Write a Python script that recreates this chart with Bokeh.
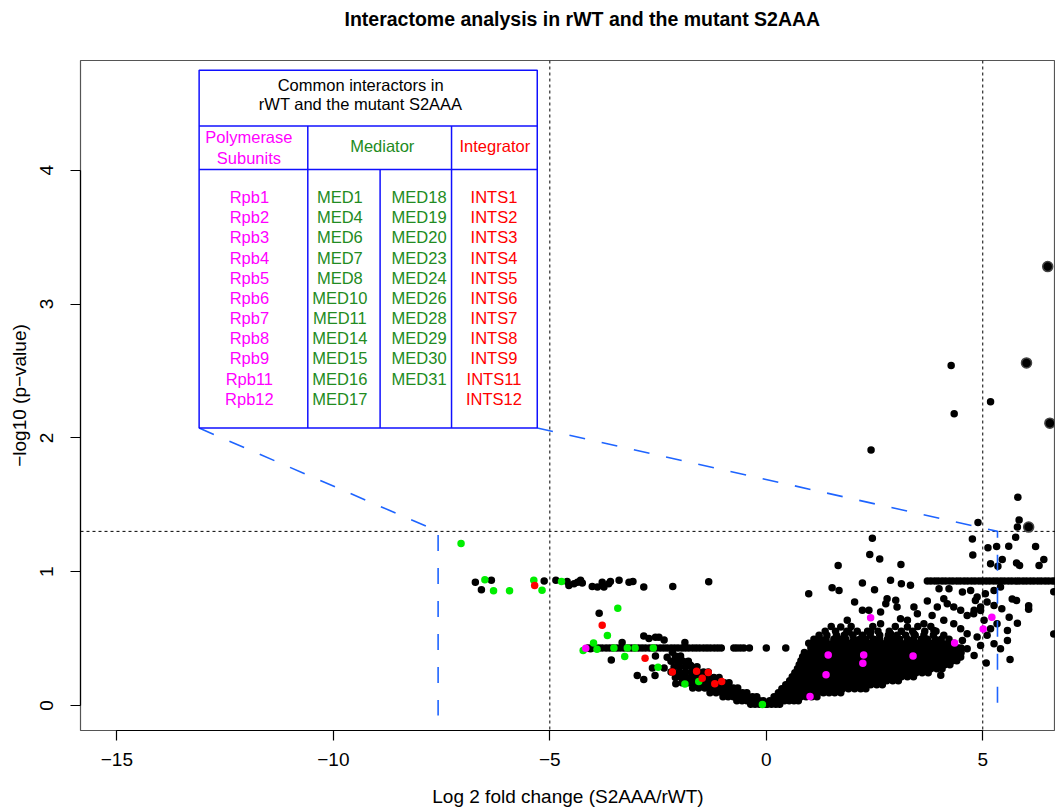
from bokeh.plotting import figure
from bokeh.models import FixedTicker, Range1d, Span, CustomJSTickFormatter, Title
from bokeh.core.properties import value
from bokeh.embed import file_html
from bokeh.resources import INLINE

FONT = "Liberation Sans"

# ---------------------------------------------------------------- data
x_ticks = [-15, -10, -5, 0, 5]
y_ticks = [0, 1, 2, 3, 4]
fc_cutoff = [-5, 5]
p_cutoff = 1.301  # -log10(0.05)

# proteins far from the origin
outlier_x = [4.27, 5.18, 4.34, 2.42, 5.81, 5.84, 5.80, 4.89, 4.76, 2.45, 2.39, 2.62, 1.66,
             3.11, 4.77, 5.12, 5.32, 5.60, 5.76, 6.22, 5.18, 5.35, 5.45, 5.78, 5.85, 6.30,
             6.41, 5.78, 5.68, 6.06, 6.06, 5.44, 5.61, 5.80, 5.57, 5.57, 5.63, 5.08, 6.64,
             6.64, 4.83, 4.95, 4.79, 0.98, 1.52, 1.68, 2.22, 2.50, 2.87, 3.12, 3.33, 2.04,
             3.72]
outlier_y = [2.54, 2.27, 2.18, 1.91, 1.557, 1.386, 1.333, 1.368, 1.244, 1.25, 1.128, 1.095,
             1.047, 1.054, 1.124, 1.178, 1.188, 1.19, 1.258, 1.188, 1.06, 1.04, 1.09, 1.064,
             1.047, 1.047, 1.09, 0.785, 0.795, 0.745, 0.72, 0.723, 0.66, 0.615, 0.56, 0.486,
             0.344, 0.317, 0.535, 0.85, 0.785, 0.71, 0.685, 0.835, 0.88, 0.86, 0.915, 0.865,
             0.935, 0.91, 0.898, 0.773, 0.78]

# heavily replicated hits (drawn larger)
big_x = [6.50, 6.01, 6.55, 6.06]
big_y = [3.28, 2.56, 2.11, 1.333]

# negative fold-change plateau near p ~ 0.12
neg_plateau_x = [-6.72, -6.58, -6.35, -5.13, -4.86, -4.60, -4.56, -4.44, -4.36, -4.29, -4.25,
                 -4.02, -3.90, -3.79, -3.75, -3.64, -3.60, -3.40, -3.17, -3.08, -2.83, -2.16,
                 -1.33]
neg_plateau_y = [0.92, 0.865, 0.935, 0.93, 0.935, 0.927, 0.897, 0.91, 0.92, 0.935, 0.915,
                 0.89, 0.885, 0.92, 0.885, 0.91, 0.927, 0.935, 0.92, 0.927, 0.885, 0.89,
                 0.925]

# scattered points on the negative side
neg_scatter_x = [-2.98, -2.83, -2.57, -2.63, -2.36, -2.13, -2.06, -1.98, -2.09, -2.56, -2.29,
                 -2.17, -2.83, -2.71, -2.56, -2.48, -2.36, -1.88, -3.86, -3.58, -3.33, -4.06,
                 -1.75, -1.98]
neg_scatter_y = [0.224, 0.194, 0.224, 0.28, 0.28, 0.287, 0.237, 0.212, 0.162, 0.37, 0.36,
                 0.398, 0.52, 0.50, 0.51, 0.51, 0.49, 0.47, 0.69, 0.34, 0.47, 0.424, 0.30,
                 0.34]

# proteins sharing the p ~ 0.37 plateau
band_low_y = 0.43
band_low_x = [-4.12, -4.04, -3.95, -3.87, -3.79, -3.70, -3.62, -3.54, -3.45, -3.37, -3.29,
              -3.20, -3.12, -3.04, -2.95, -2.87, -2.79, -2.70, -2.62, -2.54, -2.45, -2.37,
              -2.29, -2.20, -2.12, -2.04, -1.95, -1.87, -1.79, -1.70, -1.62, -1.54, -1.45,
              -1.37, -1.29, -1.20, -1.12, -1.04, -0.75, -0.68, -0.60, -0.52, -0.39, 0.00,
              0.45, 1.03, 1.11, 1.20, 1.28, 1.37, 1.45, 1.54, 1.62, 1.71, 1.79, 1.88, 1.96,
              2.05, 2.13, 2.22, 2.30, 2.39, 2.47, 2.56, 2.64, 2.73, 2.81, 2.90, 2.98, 3.07,
              3.15, 3.24, 3.32, 3.41, 3.49, 3.58, 3.66, 3.75, 3.83, 3.92, 4.00, 4.09, 4.17,
              4.26, 4.34, 4.43, 4.50]

# proteins sharing the p ~ 0.12 plateau on the positive side
band_high_y = 0.93
band_high_x = [3.72, 3.80, 3.89, 3.97, 4.06, 4.14, 4.23, 4.31, 4.40, 4.48, 4.57, 4.65, 4.74,
               4.82, 4.91, 4.99, 5.08, 5.16, 5.25, 5.33, 5.42, 5.50, 5.59, 5.67, 5.76, 5.84,
               5.93, 6.01, 6.10, 6.18, 6.27, 6.35, 6.44, 6.52, 6.61, 6.68]

# left arm of the volcano, one list per -log10(p) level
left_arm_levels = [0.37, 0.33, 0.29, 0.25, 0.21, 0.17, 0.13, 0.095, 0.065, 0.035, 0.01]
left_arm_rows = [
    [-2.10, -1.98],
    [-2.20, -2.06, -1.92, -1.80],
    [-2.00, -1.86, -1.72, -1.60],
    [-2.20, -2.00, -1.86, -1.72, -1.58, -1.45, -1.34],
    [-2.10, -1.90, -1.76, -1.62, -1.48, -1.34, -1.21, -1.09],
    [-1.95, -1.80, -1.66, -1.52, -1.38, -1.24, -1.10, -0.97, -0.86],
    [-1.70, -1.56, -1.42, -1.28, -1.14, -1.00, -0.88, -0.76, -0.66],
    [-1.30, -1.16, -1.02, -0.90, -0.78, -0.66, -0.55, -0.45],
    [-1.00, -0.88, -0.76, -0.64, -0.53, -0.42, -0.32, -0.22],
    [-0.68, -0.56, -0.45, -0.35, -0.25, -0.16, -0.07],
    [-0.36, -0.26, -0.16, -0.07, 0.00],
]

# right arm of the volcano, one list per -log10(p) level
right_arm_levels = [0.01, 0.035, 0.065, 0.095, 0.125, 0.155, 0.185, 0.215, 0.245, 0.275,
                    0.305, 0.335, 0.365, 0.395, 0.465, 0.495, 0.525, 0.555, 0.59]
right_arm_rows = [
    [0.02, 0.12, 0.22, 0.31],
    [0.08, 0.19, 0.30, 0.42, 0.53, 0.64, 0.74],
    [0.18, 0.30, 0.42, 0.55, 0.68, 0.80, 0.92, 1.05, 1.17],
    [0.28, 0.41, 0.54, 0.67, 0.80, 0.93, 1.06, 1.19, 1.32, 1.45, 1.58, 1.72],
    [0.36, 0.50, 0.64, 0.78, 0.92, 1.06, 1.20, 1.34, 1.48, 1.62, 1.76, 1.90, 2.04, 2.18, 2.30],
    [0.45, 0.59, 0.73, 0.87, 1.01, 1.15, 1.29, 1.43, 1.57, 1.71, 1.85, 1.99, 2.13, 2.27, 2.41,
     2.55, 2.68],
    [0.54, 0.68, 0.82, 0.96, 1.10, 1.24, 1.38, 1.52, 1.66, 1.80, 1.94, 2.08, 2.22, 2.36, 2.50,
     2.64, 2.78, 2.92, 3.05],
    [0.60, 0.74, 0.88, 1.02, 1.16, 1.30, 1.44, 1.58, 1.72, 1.86, 2.00, 2.14, 2.28, 2.42, 2.56,
     2.70, 2.84, 2.98, 3.12, 3.26, 3.40],
    [0.66, 0.80, 0.94, 1.08, 1.22, 1.36, 1.50, 1.64, 1.78, 1.92, 2.06, 2.20, 2.34, 2.48, 2.62,
     2.76, 2.90, 3.04, 3.18, 3.32, 3.46, 3.60, 3.74],
    [0.72, 0.86, 1.00, 1.14, 1.28, 1.42, 1.56, 1.70, 1.84, 1.98, 2.12, 2.26, 2.40, 2.54, 2.68,
     2.82, 2.96, 3.10, 3.24, 3.38, 3.52, 3.66, 3.80, 3.94, 4.06],
    [0.76, 0.90, 1.04, 1.18, 1.32, 1.46, 1.60, 1.74, 1.88, 2.02, 2.16, 2.30, 2.44, 2.58, 2.72,
     2.86, 3.00, 3.14, 3.28, 3.42, 3.56, 3.70, 3.84, 3.98, 4.12, 4.24],
    [0.80, 0.94, 1.08, 1.22, 1.36, 1.50, 1.64, 1.78, 1.92, 2.06, 2.20, 2.34, 2.48, 2.62, 2.76,
     2.90, 3.04, 3.18, 3.32, 3.46, 3.60, 3.74, 3.88, 4.02, 4.16, 4.30, 4.40],
    [0.84, 0.98, 1.12, 1.26, 1.40, 1.54, 1.68, 1.82, 1.96, 2.10, 2.24, 2.38, 2.52, 2.66, 2.80,
     2.94, 3.08, 3.22, 3.36, 3.50, 3.64, 3.78, 3.92, 4.06, 4.20, 4.34, 4.47],
    [0.88, 1.02, 1.16, 1.30, 1.44, 1.58, 1.72, 1.86, 2.00, 2.14, 2.28, 2.42, 2.56, 2.70, 2.84,
     2.98, 3.12, 3.26, 3.40, 3.54, 3.68, 3.82, 3.96, 4.10, 4.24, 4.38, 4.50],
    [0.98, 1.12, 1.26, 1.40, 1.54, 1.68, 1.82, 1.96, 2.10, 2.24, 2.38, 2.52, 2.66, 2.80, 2.94,
     3.08, 3.22, 3.36, 3.50, 3.64, 3.78, 3.92, 4.06, 4.20, 4.34],
    [1.10, 1.24, 1.38, 1.56, 1.70, 1.84, 2.02, 2.16, 2.30, 2.48, 2.62, 2.80, 2.94, 3.08, 3.26,
     3.40, 3.58, 3.72, 3.90, 4.04, 4.22],
    [1.22, 1.40, 1.62, 1.80, 2.00, 2.22, 2.40, 2.62, 2.82, 3.02, 3.22, 3.44, 3.64, 3.86, 4.10],
    [1.36, 1.60, 1.86, 2.10, 2.34, 2.58, 2.84, 3.12, 3.38, 3.66, 3.92],
    [1.50, 1.96, 2.46, 2.98, 3.50, 3.80],
]

# sparser points above the right arm
right_upper_x = [2.22, 2.37, 1.87, 1.72, 1.91, 2.64, 2.76, 2.79, 2.99, 3.02, 3.10, 3.26, 3.41,
                 3.49, 3.64, 3.83, 3.95, 4.10, 4.18, 4.33, 4.49, 4.64, 4.80, 4.95, 5.10, 5.26,
                 4.10, 4.33, 4.49, 4.64, 3.87, 3.64, 3.41, 3.26, 2.64, 2.41, 2.87, 4.72, 4.53,
                 4.87, 5.06, 5.26, 5.41, 4.22, 3.99, 4.53, 4.64, 4.87, 4.95, 5.10, 5.26, 5.41,
                 5.33, 5.03, 5.18, 4.33, 4.18, 4.49, 4.80, 4.03]
right_upper_y = [0.711, 0.711, 0.636, 0.586, 0.549, 0.698, 0.761, 0.798, 0.786, 0.736, 0.648,
                 0.636, 0.736, 0.686, 0.611, 0.673, 0.736, 0.798, 0.761, 0.736, 0.711, 0.673,
                 0.711, 0.736, 0.773, 0.748, 0.636, 0.611, 0.574, 0.536, 0.561, 0.499, 0.536,
                 0.586, 0.611, 0.549, 0.536, 0.860, 0.848, 0.810, 0.835, 0.860, 0.885, 0.873,
                 0.873, 0.486, 0.424, 0.511, 0.449, 0.524, 0.461, 0.424, 0.611, 0.636, 0.574,
                 0.399, 0.337, 0.362, 0.374, 0.225]

# highlighted complexes
mediator_x = [-7.05, -6.50, -6.30, -5.93, -5.37, -5.18, -4.73, -3.43, -3.67, -3.99, -4.23,
              -3.91, -3.52, -3.21, -3.03, -2.61, -3.27, -2.50, -1.88, -1.56, -0.09]
mediator_y = [1.21, 0.94, 0.857, 0.858, 0.935, 0.862, 0.927, 0.727, 0.523, 0.466, 0.41,
              0.42, 0.43, 0.43, 0.43, 0.43, 0.366, 0.286, 0.16, 0.18, 0.007]
integrator_x = [-5.35, -3.79, -2.80, -2.17, -1.61, -1.48, -1.34, -1.19, -1.03]
integrator_y = [0.897, 0.60, 0.353, 0.25, 0.256, 0.204, 0.247, 0.162, 0.18]
polymerase_x = [-4.17, 1.01, 1.38, 1.43, 2.23, 2.25, 2.41, 3.39, 4.35, 5.01, 5.21]
polymerase_y = [0.428, 0.067, 0.23, 0.377, 0.316, 0.377, 0.655, 0.369, 0.466, 0.571, 0.66]

# inset table contents
table_title = ["Common interactors in", "rWT and the mutant S2AAA"]
rpb_names = ["Rpb1", "Rpb2", "Rpb3", "Rpb4", "Rpb5", "Rpb6", "Rpb7", "Rpb8", "Rpb9",
             "Rpb11", "Rpb12"]
med_names_a = ["MED1", "MED4", "MED6", "MED7", "MED8", "MED10", "MED11", "MED14", "MED15",
               "MED16", "MED17"]
med_names_b = ["MED18", "MED19", "MED20", "MED23", "MED24", "MED26", "MED28", "MED29",
               "MED30", "MED31"]
ints_names = ["INTS1", "INTS2", "INTS3", "INTS4", "INTS5", "INTS6", "INTS7", "INTS8", "INTS9",
              "INTS11", "INTS12"]

# ---------------------------------------------------------------- assemble point sets
black_x = outlier_x + neg_plateau_x + neg_scatter_x + right_upper_x
black_y = outlier_y + neg_plateau_y + neg_scatter_y + right_upper_y
black_x += band_low_x + band_high_x
black_y += [band_low_y] * len(band_low_x) + [band_high_y] * len(band_high_x)
for lvl, row in zip(left_arm_levels, left_arm_rows):
    black_x += row
    black_y += [lvl] * len(row)
for lvl, row in zip(right_arm_levels, right_arm_rows):
    black_x += row
    black_y += [lvl] * len(row)

# ---------------------------------------------------------------- figure
p = figure(width=1055, height=811,
           x_range=Range1d(-15.84, 6.68), y_range=Range1d(-0.187, 4.82),
           output_backend="svg", toolbar_location=None,
           min_border_left=80, min_border_right=0, min_border_top=60, min_border_bottom=81,
           background_fill_color="white", border_fill_color="white")
p.grid.visible = False
p.outline_line_color = "#555555"
p.outline_line_width = 1.2

p.title.text = "Interactome analysis in rWT and the mutant S2AAA"
p.title.text_font = FONT
p.title.text_font_size = "19.5px"
p.title.text_font_style = "bold"
p.title.text_color = "black"
p.title.align = "left"
p.title.offset = 264
# empty spacer between the frame and the title, lifting the title toward the top edge
p.add_layout(Title(text=" ", text_font_size="12px"), "above")

minus_fmt = CustomJSTickFormatter(code="return tick < 0 ? '\u2212' + (-tick) : '' + tick;")

for ax in (p.xaxis[0], p.yaxis[0]):
    ax.axis_line_color = "black"
    ax.axis_line_width = 1.2
    ax.major_tick_line_color = "black"
    ax.major_tick_line_width = 1.2
    ax.major_tick_out = 10
    ax.major_tick_in = 0
    ax.minor_tick_line_color = None
    ax.major_label_text_font = FONT
    ax.major_label_text_font_size = "19px"
    ax.major_label_text_color = "black"
    ax.axis_label_text_font = FONT
    ax.axis_label_text_font_size = "19px"
    ax.axis_label_text_font_style = "normal"
    ax.axis_label_text_color = "black"
    ax.formatter = minus_fmt

p.xaxis.ticker = FixedTicker(ticks=x_ticks)
p.yaxis.ticker = FixedTicker(ticks=y_ticks)
p.xaxis.bounds = (x_ticks[0], x_ticks[-1])
p.yaxis.bounds = (y_ticks[0], y_ticks[-1])
p.xaxis.axis_label = "Log 2 fold change (S2AAA/rWT)"
p.yaxis.axis_label = "\u2212log10 (p\u2212value)"
p.yaxis.major_label_orientation = "parallel"
p.xaxis.major_label_standoff = 12
p.xaxis.axis_label_standoff = 17
p.yaxis.major_label_standoff = 17
p.yaxis.axis_label_standoff = 8

# significance thresholds
for fc in fc_cutoff:
    p.add_layout(Span(location=fc, dimension="height", line_color="black",
                      line_dash="3 3", line_width=1, level="underlay"))
p.add_layout(Span(location=p_cutoff, dimension="width", line_color="black",
                  line_dash="3 3", line_width=1, level="underlay"))

# points
p.scatter(black_x, black_y, size=7.5, fill_color="black", line_color=None)
p.scatter(big_x, big_y, size=10, fill_color="black", line_color="#444444", line_width=1.5)
p.scatter(mediator_x, mediator_y, size=7.5, fill_color="#00ee00", line_color=None)
p.scatter(integrator_x, integrator_y, size=7.5, fill_color="#ff0000", line_color=None)
p.scatter(polymerase_x, polymerase_y, size=7.5, fill_color="#ff00ff", line_color=None)

# ---------------------------------------------------------------- inset table
tb_left, tb_right, tb_top, tb_bottom = -13.10, -5.29, 4.748, 2.073
hdr_line, sub_line = 4.331, 4.005
col1, col2, col3 = -10.59, -8.92, -7.27
zoom_left, zoom_right, zoom_bottom = -7.58, 5.34, -0.075
dash_blue = "#1e64ff"
box_blue = "#1010ff"

p.line([tb_left, zoom_left, zoom_left], [tb_bottom, p_cutoff, zoom_bottom],
       line_color=dash_blue, line_dash="16 17", line_width=1.6)
p.line([tb_right, zoom_right, zoom_right], [tb_bottom, p_cutoff, zoom_bottom],
       line_color=dash_blue, line_dash="16 17", line_width=1.6)

p.quad(left=[tb_left], right=[tb_right], top=[tb_top], bottom=[tb_bottom],
       fill_color="white", line_color=box_blue, line_width=1.5)
p.segment(x0=[tb_left, tb_left, col1, col2, col3],
          y0=[hdr_line, sub_line, hdr_line, sub_line, hdr_line],
          x1=[tb_right, tb_right, col1, col2, col3],
          y1=[hdr_line, sub_line, tb_bottom, tb_bottom, tb_bottom],
          line_color=box_blue, line_width=1.5)

txt = dict(text_font=value(FONT), text_font_size="16.5px", text_align="center",
           text_baseline="middle")
p.text(x=[-9.37, -9.37], y=[4.636, 4.494], text=table_title, text_color="black", **txt)
p.text(x=[-11.95, -11.95], y=[4.245, 4.088], text=["Polymerase", "Subunits"],
       text_color="#ff00ff", **txt)
p.text(x=[-8.87], y=[4.182], text=["Mediator"], text_color="#228b22", **txt)
p.text(x=[-6.27], y=[4.182], text=["Integrator"], text_color="#ff0000", **txt)

row_top, row_step = 3.800, 0.1508
p.text(x=[-11.94] * len(rpb_names), y=[row_top - i * row_step for i in range(len(rpb_names))],
       text=rpb_names, text_color="#ff00ff", **txt)
p.text(x=[-9.85] * len(med_names_a), y=[row_top - i * row_step for i in range(len(med_names_a))],
       text=med_names_a, text_color="#228b22", **txt)
p.text(x=[-8.02] * len(med_names_b), y=[row_top - i * row_step for i in range(len(med_names_b))],
       text=med_names_b, text_color="#228b22", **txt)
p.text(x=[-6.29] * len(ints_names), y=[row_top - i * row_step for i in range(len(ints_names))],
       text=ints_names, text_color="#ff0000", **txt)

open("out.html", "w").write(file_html(p, INLINE))
